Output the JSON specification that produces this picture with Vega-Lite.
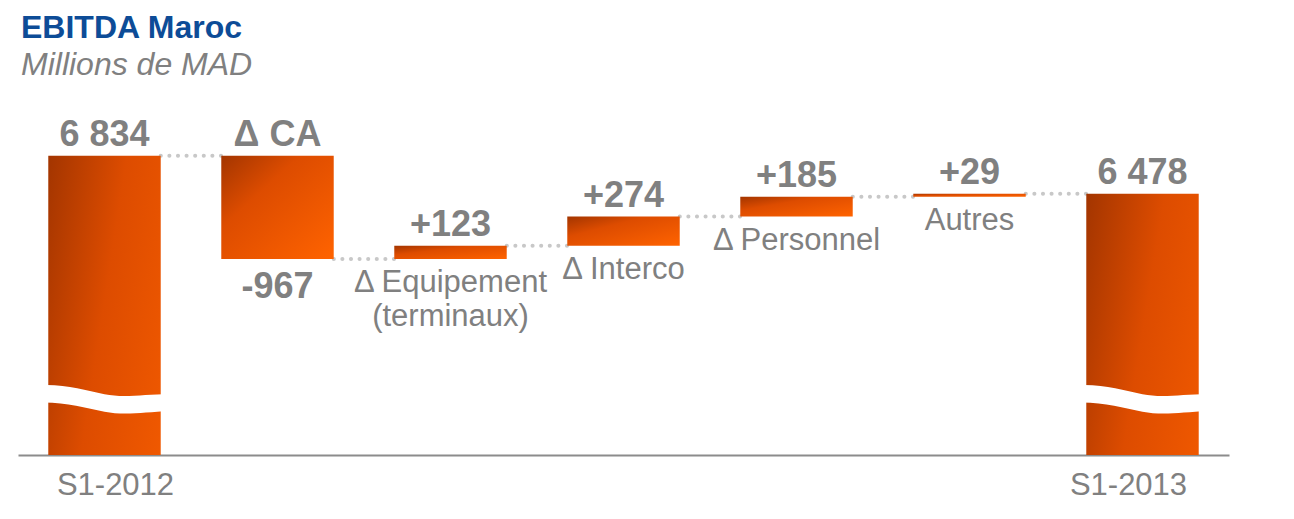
{
  "$schema": "https://vega.github.io/schema/vega-lite/v6.json",
  "width": 1211,
  "height": 317,
  "autosize": {"type": "none"},
  "padding": {"left": 18, "top": 138, "right": 65, "bottom": 64},
  "background": "white",
  "title": {
    "text": "EBITDA Maroc",
    "subtitle": "Millions de MAD",
    "anchor": "start",
    "frame": "group",
    "orient": "top",
    "offset": 35,
    "dx": 3,
    "font": "Liberation Sans",
    "fontSize": 32,
    "fontWeight": "bold",
    "color": "#0d4c97",
    "subtitleFont": "Liberation Sans",
    "subtitleFontSize": 32,
    "subtitleFontStyle": "italic",
    "subtitleColor": "#808080",
    "subtitlePadding": 5
  },
  "data": {
    "values": [
      {"cat": "S1-2012", "lo": 0, "hi": 6834, "top": "6 834", "below": "", "name": "", "next": "Δ CA", "level": 6834},
      {"cat": "Δ CA", "lo": 5867, "hi": 6834, "top": "Δ CA", "below": "-967", "name": "", "next": "Equip", "level": 5867},
      {"cat": "Equip", "lo": 5867, "hi": 5990, "top": "+123", "below": "", "name": "Δ Equipement\n(terminaux)", "next": "Interco", "level": 5990},
      {"cat": "Interco", "lo": 5990, "hi": 6264, "top": "+274", "below": "", "name": "Δ Interco", "next": "Personnel", "level": 6264},
      {"cat": "Personnel", "lo": 6264, "hi": 6449, "top": "+185", "below": "", "name": "Δ Personnel", "next": "Autres", "level": 6449},
      {"cat": "Autres", "lo": 6449, "hi": 6478, "top": "+29", "below": "", "name": "Autres", "next": "S1-2013", "level": 6478},
      {"cat": "S1-2013", "lo": 0, "hi": 6478, "top": "6 478", "below": "", "name": "", "next": "", "level": null}
    ]
  },
  "encoding": {
    "x": {
      "field": "cat",
      "type": "nominal",
      "sort": null,
      "scale": {"paddingInner": 0.35, "paddingOuter": 0.175},
      "axis": {
        "title": null,
        "labelAngle": 0,
        "labelExpr": "indexof(datum.label, 'S1') === 0 ? datum.label : ''",
        "labelFont": "Liberation Sans",
        "labelFontSize": 31,
        "labelColor": "#808080",
        "labelPadding": 15,
        "labelOffset": {"condition": {"test": "datum.value === 'S1-2012'", "value": 11}, "value": -14},
        "ticks": false,
        "domainColor": "#8c8c8c",
        "domainWidth": 2,
        "grid": false
      }
    }
  },
  "layer": [
    {
      "transform": [{"filter": "datum.next !== ''"}],
      "mark": {"type": "rule", "color": "#c8c8c8", "strokeWidth": 4, "strokeCap": "round", "strokeDash": [0.1, 8.5]},
      "encoding": {
        "x": {"field": "cat", "type": "nominal", "sort": null, "bandPosition": 1},
        "x2": {"field": "next", "bandPosition": 0},
        "y": {"field": "level", "type": "quantitative", "scale": {"domain": [4030, 7000], "zero": false, "nice": false}, "axis": null}
      }
    },
    {
      "mark": {
        "type": "bar",
        "clip": true,
        "color": {
          "gradient": "linear",
          "x1": 0, "y1": 0, "x2": 1, "y2": 1,
          "stops": [
            {"offset": 0, "color": "#a33500"},
            {"offset": 0.35, "color": "#dd4c00"},
            {"offset": 1, "color": "#ff6300"}
          ]
        }
      },
      "encoding": {
        "y": {"field": "hi", "type": "quantitative"},
        "y2": {"field": "lo"}
      }
    },
    {
      "transform": [{"filter": "datum.lo === 0"}],
      "mark": {
        "type": "point",
        "filled": true,
        "color": "white",
        "opacity": 1,
        "strokeWidth": 0,
        "size": 16900,
        "shape": "M-1,-0.2 C-0.6,-0.22 -0.3,-0.12 0,-0.06 C0.3,0 0.6,-0.06 1,-0.06 L1,0.2 C0.6,0.22 0.3,0.27 0,0.21 C-0.3,0.15 -0.6,0.06 -1,0.07 Z"
      },
      "encoding": {
        "y": {"datum": 4563, "type": "quantitative"}
      }
    },
    {
      "mark": {"type": "text", "font": "Liberation Sans", "fontSize": 36, "fontWeight": "bold", "color": "#808080", "baseline": "alphabetic", "dy": -10},
      "encoding": {
        "y": {"field": "hi", "type": "quantitative"},
        "text": {"field": "top"}
      }
    },
    {
      "transform": [{"filter": "datum.below !== ''"}],
      "mark": {"type": "text", "font": "Liberation Sans", "fontSize": 36, "fontWeight": "bold", "color": "#808080", "baseline": "alphabetic", "dy": 39},
      "encoding": {
        "y": {"field": "lo", "type": "quantitative"},
        "text": {"field": "below"}
      }
    },
    {
      "transform": [{"filter": "datum.name !== ''"}],
      "mark": {"type": "text", "font": "Liberation Sans", "fontSize": 31, "color": "#808080", "baseline": "alphabetic", "dy": 33, "lineBreak": "\n", "lineHeight": 34},
      "encoding": {
        "y": {"field": "lo", "type": "quantitative"},
        "text": {"field": "name"}
      }
    }
  ],
  "config": {"view": {"stroke": null}}
}
